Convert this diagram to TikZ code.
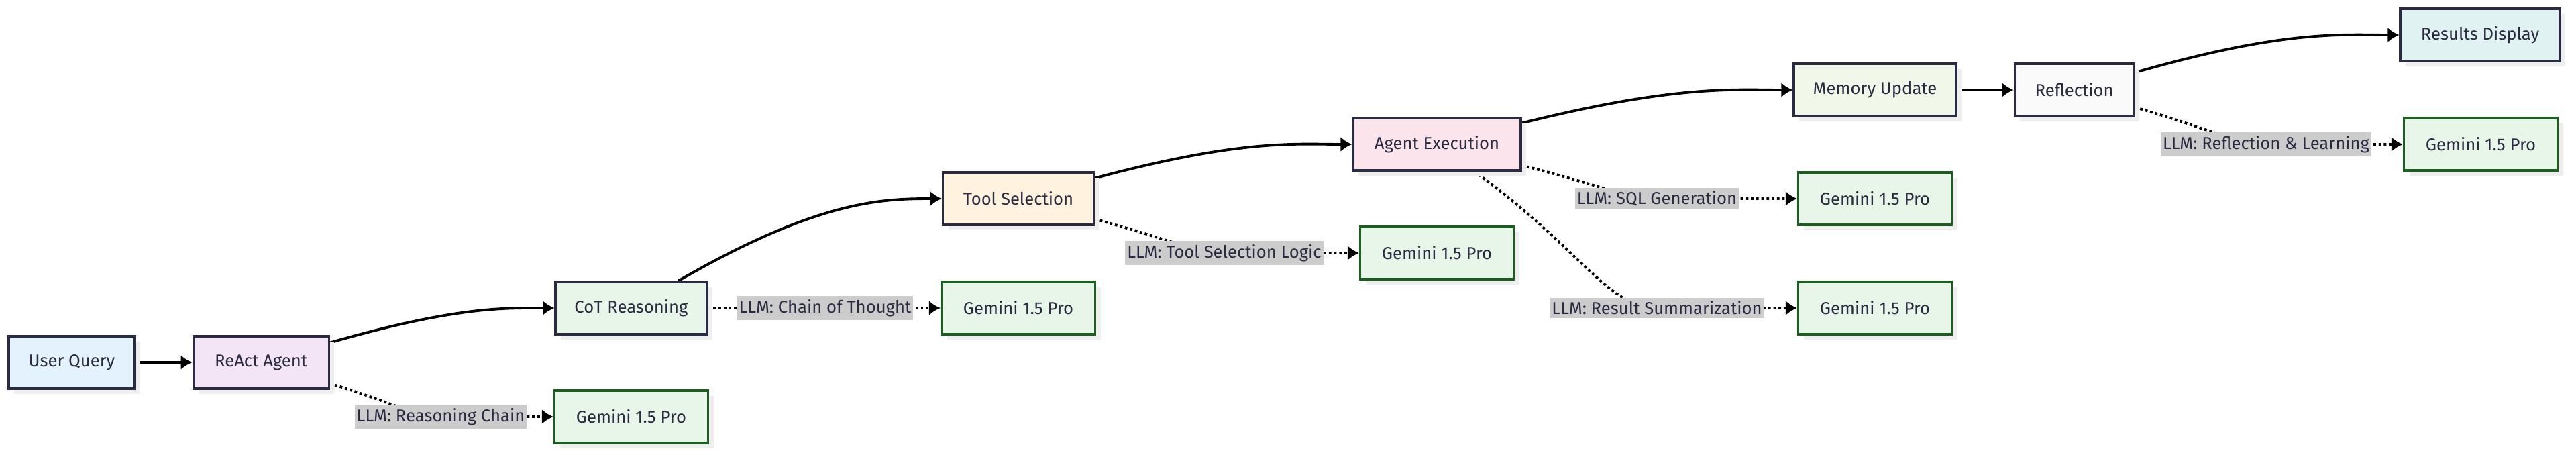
\documentclass[tikz,border=0pt]{standalone}
\usepackage{fontspec}
\setmainfont{Fira Sans}
\usetikzlibrary{arrows.meta,positioning,shadows,backgrounds}
\definecolor{InkColor}{RGB}{42,42,64}
\definecolor{GeminiEdge}{RGB}{27,94,32}
\definecolor{GeminiFill}{RGB}{232,245,233}
\definecolor{QueryFill}{RGB}{227,242,253}
\definecolor{AgentFill}{RGB}{243,229,245}
\definecolor{ToolFill}{RGB}{255,243,224}
\definecolor{ExecFill}{RGB}{252,228,236}
\definecolor{MemoryFill}{RGB}{241,248,233}
\definecolor{ReflectFill}{RGB}{250,250,250}
\definecolor{ResultFill}{RGB}{224,242,241}
\definecolor{LabelGray}{RGB}{204,204,204}
\definecolor{ShadowGray}{RGB}{238,238,238}

\begin{document}
\begin{tikzpicture}[>={Latex[length=0.17cm,width=0.22cm]}, font=\fontsize{7.3}{9}\selectfont,
    stage/.style={draw=InkColor, line width=0.9pt, text=InkColor, minimum height=0.78cm, inner sep=0pt,
      drop shadow={shadow xshift=0.08cm, shadow yshift=-0.08cm, fill=ShadowGray, opacity=1}},
    gemini/.style={stage, draw=GeminiEdge, fill=GeminiFill, minimum width=2.29cm},
    llm/.style={fill=LabelGray, text=InkColor, inner xsep=0.03cm, inner ysep=0.05cm},
    flow/.style={->, line width=1.1pt},
    llmflow/.style={->, line width=1.1pt, dash pattern=on 1.1pt off 1.1pt},
    sweep/.style={out looseness=1.5, in looseness=0.55}]
  \useasboundingbox (0,0) rectangle (38.4,6.77);
  % agent pipeline
  \node[stage, fill=QueryFill, minimum width=1.88cm] (query) at (1.07,1.37) {User Query};
  \node[stage, fill=AgentFill, minimum width=2.02cm, right=0.84cm of query] (react) {ReAct Agent};
  \node[stage, fill=GeminiFill, minimum width=2.26cm] (cot) at (9.41,2.18) {CoT Reasoning};
  \node[stage, fill=ToolFill, minimum width=2.25cm] (tool) at (15.18,3.81) {Tool Selection};
  \node[stage, fill=ExecFill, minimum width=2.50cm] (exec) at (21.42,4.62) {Agent Execution};
  \node[stage, fill=MemoryFill, minimum width=2.42cm] (memory) at (27.95,5.43) {Memory Update};
  \node[stage, fill=ReflectFill, minimum width=1.78cm, right=0.84cm of memory] (reflect) {Reflection};
  \node[stage, fill=ResultFill, minimum width=2.38cm] (results) at (36.97,6.25) {Results Display};
  % llm calls
  \node[gemini] (gemA) at (9.41,0.56) {Gemini 1.5 Pro};
  \node[gemini] (gemB) at (15.18,2.18) {Gemini 1.5 Pro};
  \node[gemini] (gemC) at (21.42,3.00) {Gemini 1.5 Pro};
  \node[gemini] (gemD) at (27.95,3.81) {Gemini 1.5 Pro};
  \node[gemini] (gemE) at (27.95,2.18) {Gemini 1.5 Pro};
  \node[gemini] (gemF) at (36.98,4.62) {Gemini 1.5 Pro};
  \node[llm] (llmA) at (6.57,0.56) {LLM: Reasoning Chain};
  \node[llm] (llmB) at (12.30,2.18) {LLM: Chain of Thought};
  \node[llm] (llmC) at (18.25,3.00) {LLM: Tool Selection Logic};
  \node[llm] (llmD) at (24.70,3.81) {LLM: SQL Generation};
  \node[llm] (llmE) at (24.70,2.18) {LLM: Result Summarization};
  \node[llm] (llmF) at (33.78,4.62) {LLM: Reflection \& Learning};
  \begin{scope}[on background layer]
    \draw[flow] (query) -- (react);
    \draw[flow] (react) to[out=16,in=180,sweep] (cot);
    \draw[flow] (cot) to[out=30,in=180,sweep] (tool);
    \draw[flow] (tool) to[out=15,in=180,sweep] (exec);
    \draw[flow] (exec) to[out=14,in=180,sweep] (memory);
    \draw[flow] (memory) -- (reflect);
    \draw[flow] (reflect) to[out=16,in=180,sweep] (results);
    \draw[llmflow] (react) to[out=-17,in=180,sweep] (llmA.center) -- (gemA);
    \draw[llmflow] (cot) -- (llmB.center) -- (gemB);
    \draw[llmflow] (tool) to[out=-15,in=180,sweep] (llmC.center) -- (gemC);
    \draw[llmflow] (exec) to[out=-14,in=180,sweep] (llmD.center) -- (gemD);
    \draw[llmflow] (exec) to[out=-36,in=180,sweep] (llmE.center) -- (gemE);
    \draw[llmflow] (reflect) to[out=-16,in=180,sweep] (llmF.center) -- (gemF);
  \end{scope}
\end{tikzpicture}
\end{document}
